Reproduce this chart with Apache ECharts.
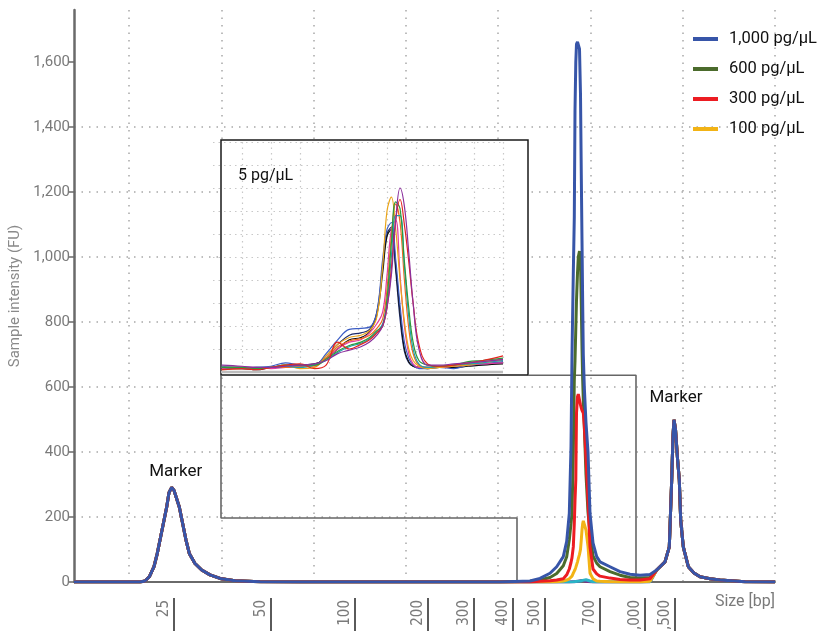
<!DOCTYPE html>
<html>
<head>
<meta charset="utf-8">
<title>Electropherogram</title>
<script src="https://cdn.jsdelivr.net/npm/echarts@6/dist/echarts.min.js"></script>
<style>
    html, body { margin: 0; padding: 0; background: #fff; }
    #chart { width: 820px; height: 631px; }
</style>
</head>
<body>
<div id="chart"></div>
<script>
// migration time (arbitrary units, 0..70.1) -> signal (FU)

// lower marker, shared by all samples
var markerLowTime = [0, 4.6, 6.6, 7.1, 7.53, 8.0, 8.33, 8.6, 8.87, 9.27, 9.5, 9.77, 10.0, 10.53, 10.93, 11.2, 11.53, 12.1, 12.77, 13.6, 14.6, 16.1, 18.6, 22.6, 32.6, 42.6];
var markerLowSignal = [0, 0, 0, 3, 16, 47, 88, 129, 170, 231, 275, 291, 282, 231, 170, 129, 88, 57, 37, 22, 11, 4, 1, 0, 0, 0];

// upper marker, shared by all samples
var markerHighTime = [58.27, 59.1, 59.53, 59.77, 59.9, 60.0, 60.15, 60.35, 60.53, 60.67, 60.93, 61.43, 62.0, 62.6, 63.6, 64.6, 67.1, 70.1];
var markerHighSignal = [37, 62, 108, 314, 450, 499, 470, 380, 314, 190, 108, 47, 28, 16, 10, 6, 1, 0];

// library peak region
var libTime = [45.6, 46.6, 47.6, 48.27, 48.93, 49.27, 49.53, 49.7, 49.8, 49.93, 50.03, 50.1, 50.18, 50.25, 50.35, 50.43, 50.55, 50.65, 50.73, 50.8, 50.87, 50.93, 51.03, 51.2, 51.4, 51.6, 51.9, 52.27, 52.6, 53.6, 54.6, 55.6, 56.6, 57.6];
var lib1000 = [3, 11, 27, 47, 78, 125, 211, 415, 700, 950, 1122, 1450, 1600, 1655, 1662, 1665, 1640, 1500, 1250, 1050, 850, 700, 600, 490, 400, 211, 120, 78, 62, 47, 32, 24, 21, 23];
var lib600 = [2, 6, 14, 26, 50, 78, 130, 180, 211, 400, 621, 680, 780, 867, 950, 1000, 1018, 990, 850, 720, 621, 560, 480, 330, 215, 150, 80, 58, 47, 32, 21, 14, 12, 14];
var lib300 = [0, 2, 4, 6, 10, 22, 40, 60, 75, 108, 180, 250, 314, 520, 570, 578, 560, 545, 535, 528, 522, 520, 480, 380, 250, 108, 40, 25, 18, 12, 8, 6, 6, 10];
var lib100 = [0, 0, 0, 1, 3, 6, 10, 14, 18, 27, 32, 38, 45, 52, 62, 72, 85, 100, 130, 160, 180, 188, 190, 160, 110, 27, 10, 3, 2, 1, 0, 0, 0, 2];
var libPurple = [0, 0, 0, 0, 0, 0, 0, 1, 1, 1, 1, 1, 2, 2, 2, 3, 3, 4, 5, 5, 5, 4, 3, 2, 1, 1, 0, 0, 0, 0, 0, 0, 0, 1];
var libCyan = [0, 0, 0, 0, 0, 0, 0, 0, 0, 0, 1, 1, 1, 1, 2, 2, 2, 3, 3, 4, 5, 6, 7, 7, 6, 3, 1, 0, 0, 0, 0, 0, 0, 1];

var seriesNames = ['1,000 pg/µL', '600 pg/µL', '300 pg/µL', '100 pg/µL'];

// ladder (size in bp) and where each size migrates
var ladderLabels = ['25', '50', '100', '200', '300', '400', '500', '700', '1,000', '1,500'];
var ladderTime = [10.0, 19.7, 28.1, 35.4, 40.0, 43.9, 47.1, 52.6, 57.1, 60.1];

var yTicks = [0, 200, 400, 600, 800, 1000, 1200, 1400, 1600];

// inset: 5 pg/µL replicates
var insetTime = [0.3, 1, 1.5, 2, 2.5, 3, 3.5, 3.9, 4.3, 4.7, 5.1, 5.4, 5.65, 5.85, 6.0, 6.15, 6.3, 6.45, 6.6, 6.75, 6.9, 7.1, 7.4, 7.8, 8.3, 8.8, 9.3, 10];
var insetBlue = [0.25, 0.2, 0.2, 0.25, 0.4, 0.3, 0.3, 0.8, 1.4, 1.85, 1.9, 1.95, 2.6, 4.9, 6.2, 6.5, 4.9, 2.9, 1.3, 0.6, 0.3, 0.15, 0.15, 0.2, 0.15, 0.3, 0.35, 0.45];
var insetBlack = [0.15, 0.15, 0.1, 0.2, 0.25, 0.3, 0.35, 0.6, 1.0, 1.4, 1.5, 1.75, 2.5, 4.3, 5.9, 6.2, 4.6, 2.6, 1.0, 0.45, 0.25, 0.2, 0.15, 0.2, 0.2, 0.25, 0.3, 0.35];
var insetYellow = [0.2, 0.2, 0.15, 0.2, 0.3, 0.15, 0.2, 0.7, 1.2, 1.5, 1.6, 1.8, 2.4, 4.6, 7.0, 7.6, 6.2, 4.0, 2.2, 1.0, 0.5, 0.25, 0.15, 0.2, 0.25, 0.3, 0.4, 0.5];
var insetRed = [0.1, 0.15, 0.1, 0.2, 0.3, 0.35, 0.15, 0.3, 1.3, 1.0, 1.2, 1.4, 1.7, 2.0, 2.8, 4.5, 6.6, 7.5, 6.4, 4.8, 3.0, 1.2, 0.35, 0.25, 0.3, 0.4, 0.5, 0.7];
var insetPurple = [0.3, 0.25, 0.2, 0.2, 0.25, 0.3, 0.35, 0.5, 0.8, 0.95, 1.1, 1.3, 1.6, 2.0, 2.8, 4.2, 6.6, 8.0, 7.2, 5.2, 3.0, 1.0, 0.3, 0.3, 0.35, 0.4, 0.45, 0.55];
var insetGreen = [0.2, 0.2, 0.15, 0.2, 0.3, 0.3, 0.3, 0.55, 0.9, 1.15, 1.3, 1.5, 1.8, 2.0, 3.2, 5.6, 7.4, 7.1, 4.8, 2.8, 1.3, 0.5, 0.3, 0.25, 0.3, 0.45, 0.5, 0.6];
var insetMagenta = [0.15, 0.2, 0.2, 0.15, 0.2, 0.25, 0.3, 0.6, 1.0, 1.3, 1.4, 1.7, 2.1, 2.6, 4.2, 6.2, 6.6, 4.2, 2.0, 0.8, 0.35, 0.2, 0.2, 0.2, 0.25, 0.3, 0.35, 0.4];
var insetTeal = [0.2, 0.15, 0.2, 0.2, 0.25, 0.2, 0.3, 0.5, 0.85, 1.1, 1.25, 1.45, 1.75, 2.1, 3.0, 5.0, 6.8, 6.8, 4.6, 2.4, 1.0, 0.35, 0.2, 0.25, 0.3, 0.35, 0.4, 0.5];
var insetOrange = [0.1, 0.15, 0.15, 0.2, 0.2, 0.25, 0.25, 0.6, 1.1, 1.35, 1.45, 1.6, 1.9, 2.3, 3.6, 5.9, 7.3, 6.5, 4.0, 1.9, 0.8, 0.3, 0.2, 0.25, 0.3, 0.35, 0.45, 0.55];
var insetNavy = [0.2, 0.2, 0.15, 0.2, 0.3, 0.25, 0.3, 0.7, 1.2, 1.6, 1.7, 1.85, 2.6, 4.6, 6.0, 6.3, 4.4, 2.3, 0.9, 0.4, 0.25, 0.2, 0.2, 0.2, 0.2, 0.3, 0.35, 0.4];

// zoom-window connector lines (in main chart units)
var connectorLeftTime = [14.7, 14.7, 44.3, 44.3];
var connectorLeftSignal = [636, 197, 197, 0];
var connectorRightTime = [45.4, 56.2, 56.2];
var connectorRightSignal = [636, 636, 0];

var FONT = 'Roboto';

function zip(xs, ys)
{
    return xs.map(function (x, i) { return [x, ys[i]]; });
}

// whole trace = lower marker + library region + upper marker
function trace(lib)
{
    return zip(markerLowTime, markerLowSignal)
        .concat(zip(libTime, lib))
        .concat(zip(markerHighTime, markerHighSignal));
}

function peakIndex(arr)
{
    var best = 0;
    for (var i = 1; i < arr.length; i++) {
        if (arr[i] > arr[best]) best = i;
    }
    return best;
}

function mainSeries(name, lib, color, extra)
{
    var s = {
        name: name,
        type: 'line',
        xAxisIndex: 0,
        yAxisIndex: 0,
        data: trace(lib),
        showSymbol: false,
        symbol: 'none',
        silent: true,
        lineStyle: { color: color, width: 3 },
        itemStyle: { color: color }
    };
    if (extra) Object.assign(s, extra);
    return s;
}

function insetSeries(values, color)
{
    return {
        type: 'line',
        xAxisIndex: 3,
        yAxisIndex: 2,
        data: zip(insetTime, values),
        smooth: 0.4,
        showSymbol: false,
        symbol: 'none',
        silent: true,
        z: 4,
        lineStyle: { color: color, width: 1.2 }
    };
}

function connector(xs, ys)
{
    return {
        type: 'line',
        xAxisIndex: 0,
        yAxisIndex: 0,
        data: zip(xs, ys),
        showSymbol: false,
        symbol: 'none',
        silent: true,
        z: 1,
        lineStyle: { color: '#666', width: 1.6 }
    };
}

function draw()
{
    var myChart = echarts.init(document.getElementById('chart'));

    var lowPeak = peakIndex(markerLowSignal);
    var highPeak = peakIndex(markerHighSignal);
    var labelTime = ladderTime.map(function (t) { return t - 1.0; });

    var dotted = { color: '#a8a8a8', width: 1.5, type: [1.5, 6] };

    var option = {
        animation: false,
        backgroundColor: '#fff',
        textStyle: { fontFamily: FONT },
        grid: [
            // main plot
            { left: 74, right: 45, top: 10, bottom: 49, outerBoundsMode: 'none' },
            // only carries the vertical dotted grid
            { left: 129, right: 45, top: 10, bottom: 49, outerBoundsMode: 'none' },
            // inset
            { left: 213, right: 317, top: 142, bottom: 259, outerBoundsMode: 'none' }
        ],
        xAxis: [
            {
                type: 'value', gridIndex: 0, min: 0, max: 70.1,
                axisLine: { show: true, lineStyle: { color: '#6a6a6a', width: 2 } },
                axisTick: { show: false },
                axisLabel: { show: false },
                splitLine: { show: false },
                name: 'Size [bp]',
                nameLocation: 'end',
                nameGap: 0,
                nameTextStyle: {
                    color: '#7a7a7a', fontSize: 16, fontFamily: FONT,
                    align: 'right', verticalAlign: 'top', padding: [12, 0, 0, 0]
                }
            },
            {
                // ladder sizes
                type: 'value', gridIndex: 0, min: 0, max: 70.1,
                position: 'bottom', offset: 16,
                axisLine: { show: false },
                axisTick: {
                    show: true, length: 34, customValues: ladderTime,
                    lineStyle: { color: '#5a5a5a', width: 2 }
                },
                axisLabel: {
                    show: true, rotate: 90, margin: 2,
                    customValues: labelTime,
                    color: '#7a7a7a', fontSize: 15,
                    fontFamily: "'Liberation Sans Narrow', 'DejaVu Sans Condensed', Roboto",
                    formatter: function (v) {
                        for (var i = 0; i < labelTime.length; i++) {
                            if (Math.abs(labelTime[i] - v) < 1e-6) return ladderLabels[i];
                        }
                        return '';
                    }
                },
                splitLine: { show: false }
            },
            {
                type: 'value', gridIndex: 1, min: 0, max: 7, interval: 1,
                axisLine: { show: false }, axisTick: { show: false }, axisLabel: { show: false },
                splitLine: { show: true, lineStyle: dotted }
            },
            {
                type: 'value', gridIndex: 2, min: 0, max: 10, interval: 1, z: 3,
                axisLine: { show: false }, axisTick: { show: false }, axisLabel: { show: false },
                splitLine: { show: true, showMinLine: false, lineStyle: { color: '#c8c8c8', width: 1.2, type: [1.5, 4] } }
            }
        ],
        yAxis: [
            {
                type: 'value', gridIndex: 0, min: 0, max: 1760, interval: 200,
                axisLine: { show: true, lineStyle: { color: '#6a6a6a', width: 2.5 } },
                axisTick: { show: true, length: 5, customValues: yTicks, lineStyle: { color: '#6a6a6a', width: 1.5 } },
                axisLabel: {
                    customValues: yTicks, color: '#7a7a7a', fontSize: 15, margin: 4,
                    fontFamily: FONT,
                    formatter: function (v) { return v.toLocaleString('en-US'); }
                },
                splitLine: { show: true, showMaxLine: false, lineStyle: dotted },
                name: 'Sample intensity (FU)',
                nameLocation: 'middle',
                nameGap: 46,
                nameTextStyle: { color: '#8a8a8a', fontSize: 15, fontFamily: FONT }
            },
            {
                type: 'value', gridIndex: 1, min: 0, max: 1760, show: false
            },
            {
                type: 'value', gridIndex: 2, min: 0, max: 10, interval: 1, z: 3,
                axisLine: { show: false }, axisTick: { show: false }, axisLabel: { show: false },
                splitLine: { show: true, showMinLine: false, lineStyle: { color: '#c8c8c8', width: 1.2, type: [1.5, 4] } }
            }
        ],
        legend: {
            data: seriesNames,
            orient: 'vertical',
            left: 688,
            top: 25,
            icon: 'rect',
            itemWidth: 25,
            itemHeight: 4,
            itemGap: 12,
            textStyle: { color: '#111', fontSize: 16.5, fontFamily: FONT, lineHeight: 18, padding: [0, 0, 0, 6] }
        },
        graphic: [
            {
                type: 'rect', z: 1,
                shape: { x: 221, y: 140, width: 307, height: 235 },
                style: { fill: '#fff', stroke: '#1a1a1a', lineWidth: 1.5 }
            },
            {
                type: 'line', z: 3,
                shape: { x1: 221, y1: 372, x2: 503, y2: 372 },
                style: { stroke: '#bdbdbd', lineWidth: 2.5 }
            },
            {
                type: 'text', z: 5, left: 238, top: 168,
                style: { text: '5 pg/µL', fill: '#111', fontSize: 16, fontFamily: FONT }
            }
        ],
        series: [
            connector(connectorLeftTime, connectorLeftSignal),
            connector(connectorRightTime, connectorRightSignal),
            mainSeries('purple', libPurple, '#7d2a8c'),
            mainSeries('cyan', libCyan, '#2ab3c6'),
            mainSeries(seriesNames[3], lib100, '#f2b315'),
            mainSeries(seriesNames[1], lib600, '#4b6b2c'),
            mainSeries(seriesNames[2], lib300, '#ec1c22'),
            mainSeries(seriesNames[0], lib1000, '#3755a8', {
                markPoint: {
                    symbol: 'circle',
                    symbolSize: 1,
                    silent: true,
                    itemStyle: { color: 'rgba(0,0,0,0)' },
                    label: {
                        show: true, formatter: 'Marker', position: 'top',
                        color: '#111', fontSize: 17, fontFamily: FONT
                    },
                    data: [
                        { coord: [markerLowTime[lowPeak], markerLowSignal[lowPeak]], label: { distance: 7, offset: [4, 0] } },
                        { coord: [markerHighTime[highPeak], markerHighSignal[highPeak]], label: { distance: 13, offset: [2, 0] } }
                    ]
                }
            }),
            insetSeries(insetNavy, '#1c2b6b'),
            insetSeries(insetBlack, '#111111'),
            insetSeries(insetBlue, '#3b5cc4'),
            insetSeries(insetMagenta, '#e23c9e'),
            insetSeries(insetYellow, '#eaa51a'),
            insetSeries(insetOrange, '#f06a1e'),
            insetSeries(insetTeal, '#1f9fb0'),
            insetSeries(insetGreen, '#2c9a3c'),
            insetSeries(insetRed, '#e3241f'),
            insetSeries(insetPurple, '#8b2f9c')
        ]
    };

    myChart.setOption(option);
}

function onload()
{
    draw();
}

onload();
</script>
</body>
</html>
